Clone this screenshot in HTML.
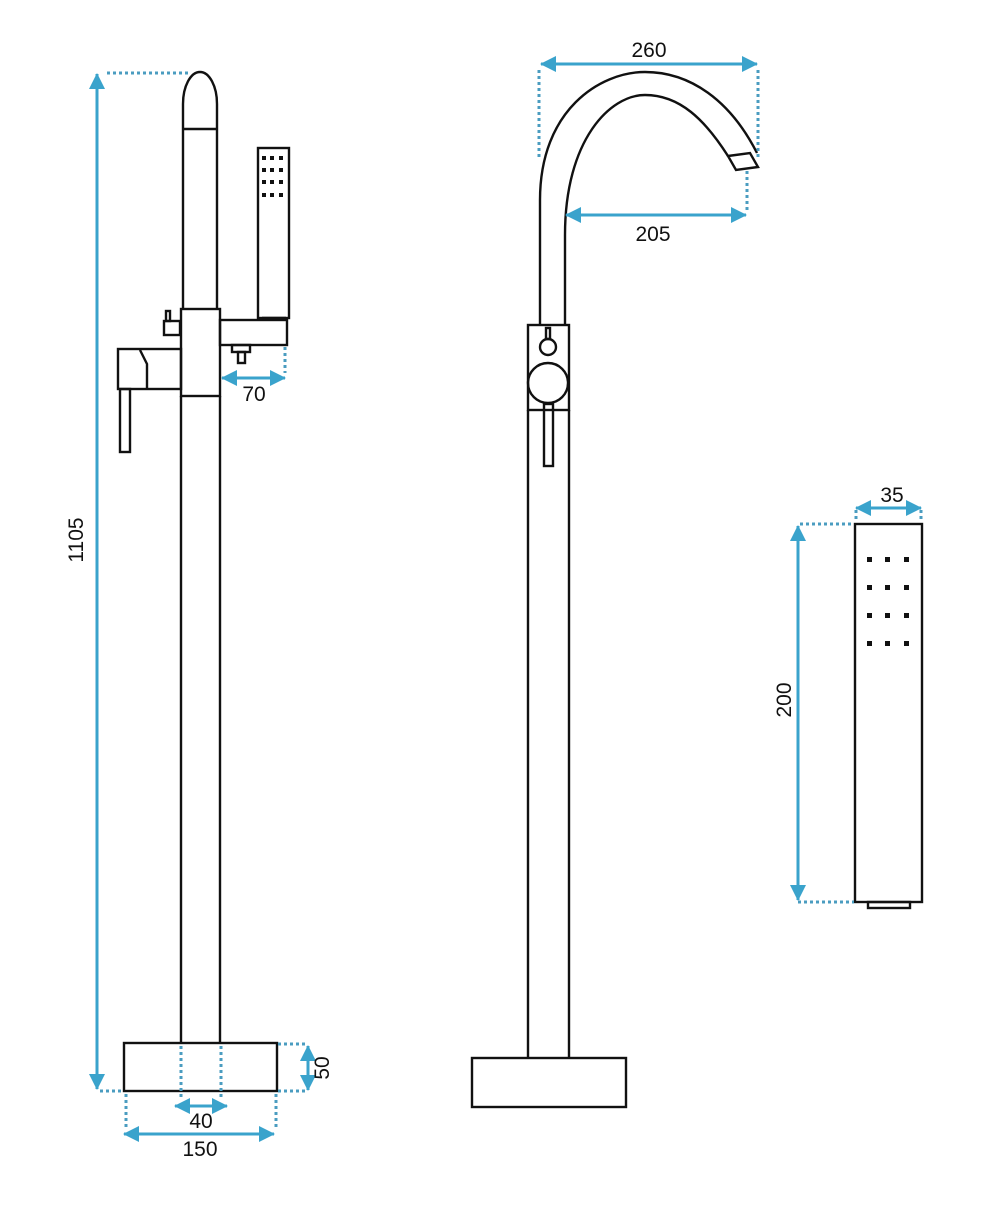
<!DOCTYPE html>
<html><head><meta charset="utf-8"><style>html,body{margin:0;padding:0;background:#fff}svg{display:block}text{font-family:"Liberation Sans",sans-serif;font-size:21px;fill:#111}</style></head><body>
<svg width="988" height="1213" viewBox="0 0 988 1213" xmlns="http://www.w3.org/2000/svg">
<defs>
<marker id="a" viewBox="0 0 16 16" refX="15" refY="8" markerWidth="16" markerHeight="16" markerUnits="userSpaceOnUse" orient="auto-start-reverse"><path d="M0,0 L16,8 L0,16 Z" fill="#3aa3cc"/></marker>
</defs>
<g fill="none" stroke="#111" stroke-width="2.4">
<path d="M183,308 L183,104 A17,32 0 0 1 217,104 L217,308"/>
<line x1="183" y1="129" x2="217" y2="129"/>
<rect x="181" y="309" width="39" height="87"/>
<line x1="181" y1="396" x2="181" y2="1043"/><line x1="220" y1="396" x2="220" y2="1043"/>
<rect x="164" y="321" width="16" height="14"/><rect x="166" y="311" width="4" height="10"/>
<rect x="118" y="349" width="63" height="40"/>
<path d="M140,350 L147,364 L147,389"/>
<rect x="120" y="389" width="10" height="63"/>
<rect x="220" y="320" width="67" height="25"/>
<rect x="232" y="345" width="18" height="7"/><rect x="238" y="352" width="7" height="11"/>
<rect x="258" y="148" width="31" height="170"/>
<line x1="262" y1="318" x2="286" y2="318"/>
<rect x="124" y="1043" width="153" height="48"/>
<path d="M540,325 L540,200 C540,110 600,72 645,72 C690,72 730,100 757,153"/>
<path d="M565,325 L565,235 C565,140 610,95 645,95 C680,95 705,120 728,156"/>
<path d="M728,156 L750,153 L758,167 L736,170 Z"/>
<rect x="528" y="325" width="41" height="85"/>
<circle cx="548" cy="347" r="8"/><rect x="546" y="328" width="4" height="11"/>
<circle cx="548" cy="383" r="20"/>
<rect x="544" y="404" width="9" height="62"/>
<line x1="528" y1="410" x2="528" y2="1058"/><line x1="569" y1="410" x2="569" y2="1058"/>
<rect x="472" y="1058" width="154" height="49"/>
<rect x="855" y="524" width="67" height="378"/>
<rect x="868" y="902" width="42" height="6"/>
</g>
<g fill="#111">
<g id="d1"><rect x="262" y="156" width="4" height="4"/><rect x="270" y="156" width="4" height="4"/><rect x="279" y="156" width="4" height="4"/></g>
<use href="#d1" y="12"/><use href="#d1" y="24"/><use href="#d1" y="37"/>
<g id="d2"><rect x="867" y="557" width="5" height="5"/><rect x="885" y="557" width="5" height="5"/><rect x="904" y="557" width="5" height="5"/></g>
<use href="#d2" y="28"/><use href="#d2" y="56"/><use href="#d2" y="84"/>
</g>
<g stroke="#4a9cc0" stroke-width="3" stroke-dasharray="3 3" fill="none">
<line x1="107" y1="73" x2="188" y2="73"/>
<line x1="100" y1="1091" x2="124" y2="1091"/>
<line x1="285" y1="347" x2="285" y2="373"/>
<line x1="278" y1="1044" x2="305" y2="1044"/><line x1="278" y1="1091" x2="305" y2="1091"/>
<line x1="181" y1="1046" x2="181" y2="1100"/><line x1="221" y1="1046" x2="221" y2="1100"/>
<line x1="126" y1="1094" x2="126" y2="1128"/><line x1="276" y1="1094" x2="276" y2="1128"/>
<line x1="539" y1="70" x2="539" y2="160"/><line x1="758" y1="70" x2="758" y2="158"/>
<line x1="747" y1="171" x2="747" y2="210"/>
<line x1="856" y1="510" x2="856" y2="522"/><line x1="921" y1="510" x2="921" y2="522"/>
<line x1="800" y1="524" x2="854" y2="524"/><line x1="798" y1="902" x2="854" y2="902"/>
</g>
<g stroke="#3aa3cc" stroke-width="3" fill="none" marker-start="url(#a)" marker-end="url(#a)">
<line x1="97" y1="74" x2="97" y2="1089"/>
<line x1="222" y1="378" x2="285" y2="378"/>
<line x1="308" y1="1046" x2="308" y2="1090"/>
<line x1="175" y1="1106" x2="227" y2="1106"/>
<line x1="124" y1="1134" x2="274" y2="1134"/>
<line x1="541" y1="64" x2="757" y2="64"/>
<line x1="566" y1="215" x2="746" y2="215"/>
<line x1="856" y1="508" x2="921" y2="508"/>
<line x1="798" y1="526" x2="798" y2="900"/>
</g>
<text x="254" y="401" text-anchor="middle">70</text>
<text x="201" y="1128" text-anchor="middle">40</text>
<text x="200" y="1156" text-anchor="middle">150</text>
<text x="649" y="57" text-anchor="middle">260</text>
<text x="653" y="241" text-anchor="middle">205</text>
<text x="892" y="502" text-anchor="middle">35</text>
<text transform="translate(83,540) rotate(-90)" text-anchor="middle">1105</text>
<text transform="translate(329,1068) rotate(-90)" text-anchor="middle">50</text>
<text transform="translate(791,700) rotate(-90)" text-anchor="middle">200</text>
</svg>
</body></html>
